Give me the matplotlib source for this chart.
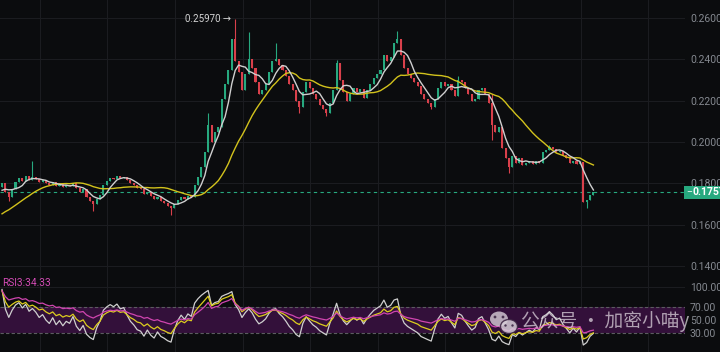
import numpy as np
import pandas as pd
import matplotlib
matplotlib.use("Agg")
import matplotlib.pyplot as plt
from matplotlib.patches import Ellipse, Circle, Rectangle
from matplotlib.transforms import blended_transform_factory

# ── Data ─────────────────────────────────────────────────────────────────────
# closes before the visible window, only used to seed MA20 / RSI
warmup_close = [0.1545, 0.1560, 0.1550, 0.1575, 0.1590, 0.1580, 0.1600, 0.1610,
                0.1595, 0.1620, 0.1630, 0.1655, 0.1680, 0.1700, 0.1720, 0.1735,
                0.1750, 0.1765, 0.1780]

close = [
    0.1800, 0.1760, 0.1735, 0.1770, 0.1805, 0.1825, 0.1810, 0.1835, 0.1815, 0.1830,
    0.1820, 0.1805, 0.1815, 0.1800, 0.1790, 0.1805, 0.1785, 0.1795, 0.1780, 0.1790,
    0.1785, 0.1800, 0.1775, 0.1760, 0.1770, 0.1735, 0.1715, 0.1700, 0.1725, 0.1745,
    0.1790, 0.1810, 0.1825, 0.1820, 0.1835, 0.1825, 0.1830, 0.1815, 0.1800, 0.1790,
    0.1775, 0.1770, 0.1750, 0.1760, 0.1740, 0.1725, 0.1735, 0.1715, 0.1705, 0.1690,
    0.1680, 0.1700, 0.1720, 0.1735, 0.1725, 0.1740, 0.1735, 0.1790, 0.1830, 0.1880,
    0.1950, 0.2080, 0.2000, 0.2050, 0.2070, 0.2210, 0.2280, 0.2350, 0.2500, 0.2390,
    0.2340, 0.2250, 0.2330, 0.2400, 0.2360, 0.2290, 0.2230, 0.2250, 0.2280, 0.2340,
    0.2390, 0.2400, 0.2370, 0.2350, 0.2320, 0.2280, 0.2250, 0.2200, 0.2170, 0.2240,
    0.2290, 0.2260, 0.2230, 0.2210, 0.2180, 0.2160, 0.2140, 0.2190, 0.2250, 0.2380,
    0.2300, 0.2240, 0.2200, 0.2230, 0.2260, 0.2240, 0.2255, 0.2215, 0.2250, 0.2280,
    0.2310, 0.2330, 0.2350, 0.2420, 0.2390, 0.2410, 0.2480, 0.2500, 0.2420, 0.2360,
    0.2330, 0.2310, 0.2290, 0.2270, 0.2230, 0.2210, 0.2190, 0.2170, 0.2210, 0.2260,
    0.2290, 0.2270, 0.2280, 0.2250, 0.2220, 0.2300, 0.2290, 0.2260, 0.2230, 0.2200,
    0.2210, 0.2250, 0.2260, 0.2230, 0.2190, 0.2080, 0.2050, 0.2070, 0.1970, 0.1920,
    0.1880, 0.1930, 0.1900, 0.1920, 0.1890, 0.1900, 0.1910, 0.1895, 0.1910, 0.1900,
    0.1950, 0.1960, 0.1975, 0.1965, 0.1950, 0.1955, 0.1935, 0.1920, 0.1900, 0.1910,
    0.1895, 0.1905, 0.1710, 0.1720, 0.1745, 0.1757,
]

# notable wicks (index -> price); other candles have no visible wick
wick_high = {9: 0.1910, 61: 0.2140, 69: 0.25970, 73: 0.2532, 81: 0.2478,
             99: 0.2395, 117: 0.2535, 135: 0.2320, 145: 0.2230, 162: 0.1985}
wick_low = {2: 0.1715, 27: 0.1665, 50: 0.1646, 88: 0.2140, 96: 0.2125,
            127: 0.2160, 145: 0.2010, 150: 0.1850, 173: 0.1680}

price_ticks = [0.14, 0.16, 0.18, 0.20, 0.22, 0.24, 0.26]
rsi_ticks = [30, 50, 70, 100]
last_price = 0.1757
peak_idx, peak_price = 69, 0.25970
rsi_label = "RSI3:34.33"
watermark = "公众号 · 加密小喵y"

# ── Style ────────────────────────────────────────────────────────────────────
BG    = "#0b0c0e"
GRID  = "#1b1c20"
TXT   = "#858990"
UP    = "#27a97f"
DOWN  = "#d9404b"
MA_W  = "#cfcfcf"
MA_Y  = "#d2c21c"
BAND  = "#33103a"
FONT  = ["Roboto", "DejaVu Sans"]
plt.rcParams["font.family"] = FONT

# ── Derived series ───────────────────────────────────────────────────────────
n0 = len(warmup_close)
s_all = pd.Series(warmup_close + close)
ma5 = s_all.rolling(5).mean().iloc[n0:].to_numpy()
ma20 = s_all.rolling(20).mean().iloc[n0:].to_numpy()


def rsi(s, n):
    d = s.diff()
    up = d.clip(lower=0).ewm(alpha=1 / n, adjust=False).mean()
    dn = (-d.clip(upper=0)).ewm(alpha=1 / n, adjust=False).mean()
    return (100 - 100 / (1 + up / dn)).iloc[n0:].to_numpy()


rsi1, rsi2, rsi3 = rsi(s_all, 6), rsi(s_all, 12), rsi(s_all, 24)

c = np.array(close)
o = np.array([warmup_close[-1]] + close[:-1])
hi = np.maximum(o, c)
lo = np.minimum(o, c)
for k, v in wick_high.items():
    hi[k] = v
for k, v in wick_low.items():
    lo[k] = v
x = np.arange(len(c))
col = np.where(c >= o, UP, DOWN)

# ── Figure ───────────────────────────────────────────────────────────────────
W, H = 720, 352
fig = plt.figure(figsize=(W / 100, H / 100), dpi=100, facecolor=BG)
ax = fig.add_axes([0, 76 / H, 685 / W, 276 / H], facecolor=BG)
ar = fig.add_axes([0, 0, 685 / W, 76 / H], facecolor=BG, sharex=ax)

XMIN, XMAX = -0.6, 202.1
vgrid = np.arange(11.2, XMAX, 20)

for a in (ax, ar):
    for sp in a.spines.values():
        sp.set_visible(False)
    a.yaxis.tick_right()
    a.tick_params(axis="y", length=0, pad=3.6, labelsize=7.5, labelcolor=TXT)
    a.tick_params(axis="x", length=0, labelbottom=False)
    for v in vgrid:
        a.axvline(v, color=GRID, lw=0.8, zorder=0)

# main price panel
ax.set_xlim(XMIN, XMAX)
ax.set_ylim(0.1351, 0.2687)
ax.set_yticks(price_ticks)
ax.set_yticklabels([f"{t:.5f}" for t in price_ticks])
for t in price_ticks:
    ax.axhline(t, color=GRID, lw=0.8, zorder=0)

ax.vlines(x, lo, hi, colors=col, lw=0.8, zorder=2)
body = np.maximum(np.abs(c - o), 0.0004)
ax.bar(x, body, bottom=np.minimum(o, c), width=0.62, color=col, lw=0, zorder=3)

ax.plot(x, ma20, color=MA_Y, lw=1.0, zorder=4)
ax.plot(x, ma5, color=MA_W, lw=1.0, zorder=5)

# last-price line with its tag on the axis
ax.axhline(last_price, color=UP, lw=0.8, ls=(0, (3, 3)), zorder=1)
tr = blended_transform_factory(ax.transAxes, ax.transData)
ax.add_patch(Rectangle((0.999, last_price - 0.0031), 0.06, 0.0062, transform=tr,
                       fc=UP, ec="none", clip_on=False, zorder=7))
ax.annotate("–", xy=(1, last_price), xycoords=tr, xytext=(1.2, 0),
            textcoords="offset points", va="center", ha="left", fontsize=6.5,
            color="white", annotation_clip=False, zorder=8)
ax.annotate(f"{last_price:.4f}", xy=(1, last_price), xycoords=tr,
            xytext=(5.4, 0), textcoords="offset points", va="center", ha="left",
            fontsize=7.6, color="white", fontweight="bold", annotation_clip=False,
            zorder=8)

ax.text(peak_idx - 1.3, peak_price, f"{peak_price:.5f} →", ha="right", va="center",
        fontsize=7, color="#d4d4d4", zorder=6)

# RSI panel
ar.set_ylim(0, 117.8)
ar.set_yticks(rsi_ticks)
ar.set_yticklabels([f"{t:.2f}" for t in rsi_ticks])
ar.axhline(100, color=GRID, lw=0.8, zorder=0)
ar.axhspan(30, 70, color=BAND, lw=0, zorder=0.5)
for t in (30, 70):
    ar.axhline(t, color="#5c5c60", lw=0.8, ls=(0, (3, 2)), zorder=1)
ar.plot(x, rsi1, color=MA_W, lw=0.9, zorder=3)
ar.plot(x, rsi2, color="#dccd1e", lw=0.9, zorder=4)
ar.plot(x, rsi3, color="#d045b0", lw=0.9, zorder=5)
ar.text(2 / 685, 0.905, rsi_label, transform=ar.transAxes, fontsize=7.3,
        color="#d24bb4", va="center", ha="left")

# watermark overlay (pixel coordinates)
ov = fig.add_axes([0, 0, 1, 1], facecolor="none")
ov.set_xlim(0, W)
ov.set_ylim(H, 0)
ov.axis("off")
ov.add_patch(Ellipse((499, 319), 18, 15, fc="#d9cfd9", ec="none", alpha=0.8))
ov.add_patch(Ellipse((509, 326.5), 17, 14, fc="#d9cfd9", ec="#3a2140", lw=1.0, alpha=0.85))
for (ex, ey, r) in [(495, 317, 1.4), (503, 317, 1.4), (505.5, 325.5, 1.2), (512.5, 325.5, 1.2)]:
    ov.add_patch(Circle((ex, ey), r, fc="#4a3450", ec="none"))
ov.text(521, 322, watermark, ha="left", va="center", fontsize=13.5,
        family=["Noto Sans CJK SC", "DejaVu Sans"], color="#e2d9e2", alpha=0.72)

fig.savefig("out.png", dpi=100, facecolor=BG)
